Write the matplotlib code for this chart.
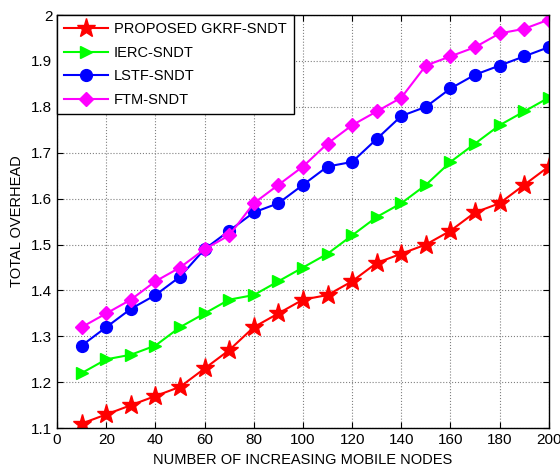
import matplotlib
matplotlib.use("Agg")
import matplotlib.pyplot as plt

plt.rcParams['font.family'] = ['Liberation Sans', 'DejaVu Sans']

# number of mobile nodes
nodes = [10, 20, 30, 40, 50, 60, 70, 80, 90, 100,
         110, 120, 130, 140, 150, 160, 170, 180, 190, 200]

# total overhead for each method
gkrf = [1.11, 1.13, 1.15, 1.17, 1.19, 1.23, 1.27, 1.32, 1.35, 1.38,
        1.39, 1.42, 1.46, 1.48, 1.50, 1.53, 1.57, 1.59, 1.63, 1.67]
ierc = [1.22, 1.25, 1.26, 1.28, 1.32, 1.35, 1.38, 1.39, 1.42, 1.45,
        1.48, 1.52, 1.56, 1.59, 1.63, 1.68, 1.72, 1.76, 1.79, 1.82]
lstf = [1.28, 1.32, 1.36, 1.39, 1.43, 1.49, 1.53, 1.57, 1.59, 1.63,
        1.67, 1.68, 1.73, 1.78, 1.80, 1.84, 1.87, 1.89, 1.91, 1.93]
ftm = [1.32, 1.35, 1.38, 1.42, 1.45, 1.49, 1.52, 1.59, 1.63, 1.67,
       1.72, 1.76, 1.79, 1.82, 1.89, 1.91, 1.93, 1.96, 1.97, 1.99]

labels = ['PROPOSED GKRF-SNDT', 'IERC-SNDT', 'LSTF-SNDT', 'FTM-SNDT']

fig = plt.figure(figsize=(5.6, 4.7), dpi=100)
ax = fig.add_axes([0.102, 0.089, 0.878, 0.879])

ax.plot(nodes, gkrf, '-*', color='#ff0000', lw=1.5, ms=14, label=labels[0])
ax.plot(nodes, ierc, '->', color='#00ff00', lw=1.5, ms=9, label=labels[1])
ax.plot(nodes, lstf, '-o', color='#0000ff', lw=1.5, ms=8.5, label=labels[2])
ax.plot(nodes, ftm, '-D', color='#ff00ff', lw=1.5, ms=7, label=labels[3])

ax.set_xlim(0, 200)
ax.set_ylim(1.1, 2.0)
ax.set_xticks(range(0, 201, 20))
ax.set_yticks([1.1, 1.2, 1.3, 1.4, 1.5, 1.6, 1.7, 1.8, 1.9, 2.0])
ax.set_yticklabels(['1.1', '1.2', '1.3', '1.4', '1.5', '1.6', '1.7', '1.8', '1.9', '2'])
ax.tick_params(direction='in', top=True, right=True, labelsize=11, length=4)
ax.grid(True, color='#808080', linestyle=':', linewidth=0.8)
for s in ax.spines.values():
    s.set_linewidth(1.0)

ax.set_xlabel('NUMBER OF INCREASING MOBILE NODES', fontsize=10.5, labelpad=4)
ax.set_ylabel('TOTAL OVERHEAD', fontsize=10.5, labelpad=5)

leg = ax.legend(loc='upper left', fontsize=10.5, fancybox=False, framealpha=1,
                edgecolor='black', borderaxespad=0, handlelength=3.0,
                handletextpad=0.4, borderpad=0.5, labelspacing=0.65)
leg.get_frame().set_linewidth(1.0)

fig.savefig('out.png', dpi=100)
